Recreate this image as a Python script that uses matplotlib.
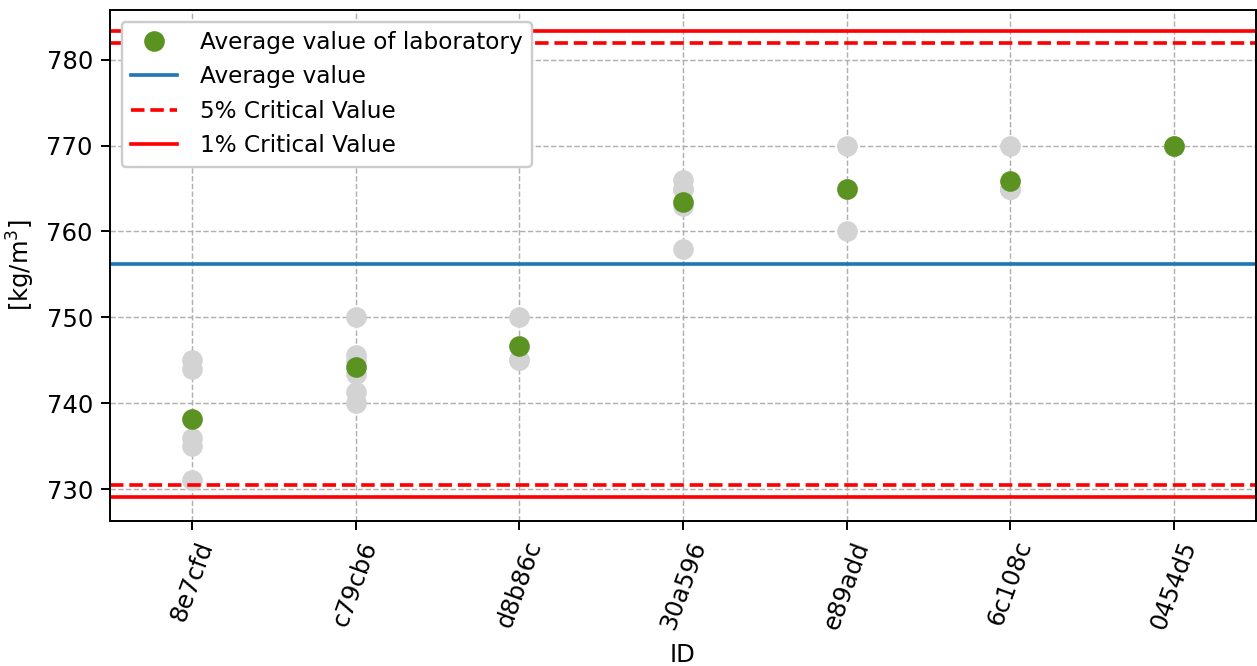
import numpy as np
import matplotlib
matplotlib.use("Agg")
import matplotlib.pyplot as plt

# Laboratory IDs and individual measurements [kg/m^3]
lab_ids = ["8e7cfd", "c79cb6", "d8b86c", "30a596", "e89add", "6c108c", "0454d5"]
lab_8e7cfd = [745.0, 744.0, 736.0, 735.0, 731.0]
lab_c79cb6 = [750.0, 745.6, 744.9, 743.4, 741.3, 740.0]
lab_d8b86c = [750.0, 745.0, 745.0]
lab_30a596 = [766.0, 765.0, 765.0, 763.0, 758.0]
lab_e89add = [770.0, 765.0, 760.0]
lab_6c108c = [770.0, 765.0, 765.0, 765.0, 765.0, 765.0]
lab_0454d5 = [770.0]

# Critical limits
crit5_low, crit5_high = 730.5, 781.9
crit1_low, crit1_high = 729.1, 783.3

measurements = [lab_8e7cfd, lab_c79cb6, lab_d8b86c, lab_30a596,
                lab_e89add, lab_6c108c, lab_0454d5]
lab_means = [np.mean(m) for m in measurements]
overall_mean = np.mean(lab_means)

dpi = 175
fig = plt.figure(figsize=(1257 / dpi, 666 / dpi), dpi=dpi)
ax = fig.add_axes([0.0875, 0.218, 0.9115, 0.767])

x = np.arange(len(lab_ids))
for xi, vals in zip(x, measurements):
    ax.plot([xi] * len(vals), vals, "o", color="lightgrey", markersize=7.5,
            zorder=2)

ax.plot(x, lab_means, "o", color="#5b9322", markersize=7.5, zorder=3,
        label="Average value of laboratory")
ax.axhline(overall_mean, color="#1f77b4", lw=1.5, label="Average value")
ax.axhline(crit5_high, color="red", ls="--", lw=1.5, label="5% Critical Value")
ax.axhline(crit5_low, color="red", ls="--", lw=1.5)
ax.axhline(crit1_high, color="red", ls="-", lw=1.5, label="1% Critical Value")
ax.axhline(crit1_low, color="red", ls="-", lw=1.5)

ax.set_xlim(-0.5, 6.5)
ax.set_ylim(726.3, 785.8)
ax.set_xticks(x)
ax.set_xticklabels(lab_ids, rotation=70)
ax.set_yticks([730, 740, 750, 760, 770, 780])
ax.grid(True, ls="--", color="#b0b0b0", lw=0.6)
ax.set_axisbelow(True)
ax.set_xlabel("ID")
ax.set_ylabel("[kg/m$^3$]")
ax.legend(loc="upper left", fontsize=9.5, framealpha=1.0, handletextpad=1.0)

fig.savefig("out.png", dpi=dpi)
